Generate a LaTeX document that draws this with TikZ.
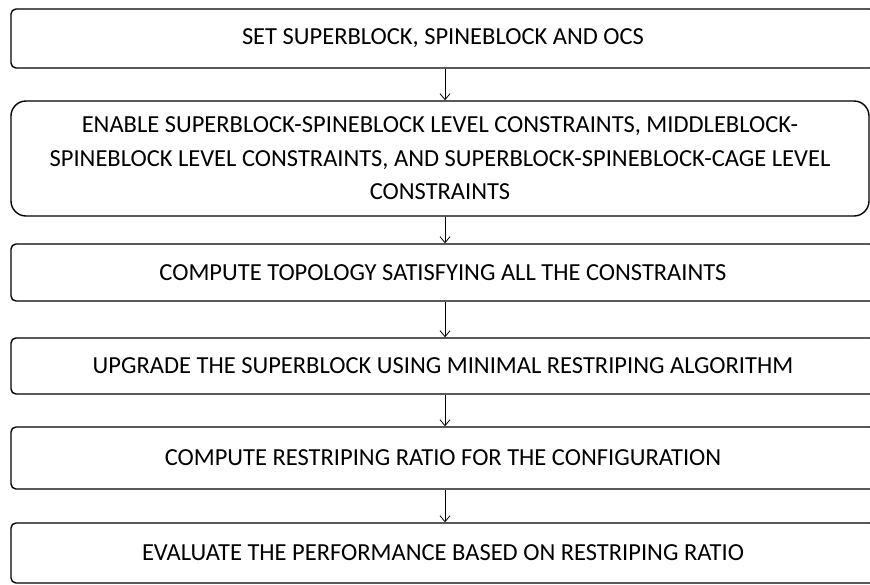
\documentclass[tikz,border=0pt]{standalone}
\usepackage{fontspec}
\setmainfont{Carlito}
\usetikzlibrary{arrows.meta}
\begin{document}
\begin{tikzpicture}[x=1pt,y=-1pt,
  stepbox/.style={draw=black, line width=1.4pt, rounded corners=5pt, inner sep=0pt,
    font=\fontsize{24.5}{33.5}\selectfont, align=center, anchor=center},
  flow/.style={draw=black, line width=0.8pt, -{Straight Barb[length=6pt,width=10pt]}}]
\useasboundingbox (0,0) rectangle (870,584);
\node[stepbox, minimum width=864pt, minimum height=59pt] (b1) at (443,38.5) {SET SUPERBLOCK, SPINEBLOCK AND OCS};
\node[stepbox, rounded corners=15pt, minimum width=858pt, minimum height=115pt] (b2) at (440,158.5) {ENABLE SUPERBLOCK-SPINEBLOCK LEVEL CONSTRAINTS, MIDDLEBLOCK-\\SPINEBLOCK LEVEL CONSTRAINTS, AND SUPERBLOCK-SPINEBLOCK-CAGE LEVEL\\CONSTRAINTS};
\node[stepbox, minimum width=864pt, minimum height=57pt] (b3) at (443,272.5) {COMPUTE TOPOLOGY SATISFYING ALL THE CONSTRAINTS};
\node[stepbox, minimum width=864pt, minimum height=56pt] (b4) at (443,366) {UPGRADE THE SUPERBLOCK USING MINIMAL RESTRIPING ALGORITHM};
\node[stepbox, minimum width=864pt, minimum height=62pt] (b5) at (443,458) {COMPUTE RESTRIPING RATIO FOR THE CONFIGURATION};
\node[stepbox, minimum width=864pt, minimum height=60pt] (b6) at (443,553) {EVALUATE THE PERFORMANCE BASED ON RESTRIPING RATIO};
\coordinate (ax) at (445,0);
\draw[flow] (ax |- b1.south) -- (ax |- b2.north);
\draw[flow] (ax |- b2.south) -- (ax |- b3.north);
\draw[flow] (ax |- b3.south) -- (ax |- b4.north);
\draw[flow] (ax |- b4.south) -- (ax |- b5.north);
\draw[flow] (ax |- b5.south) -- (ax |- b6.north);
\end{tikzpicture}
\end{document}
